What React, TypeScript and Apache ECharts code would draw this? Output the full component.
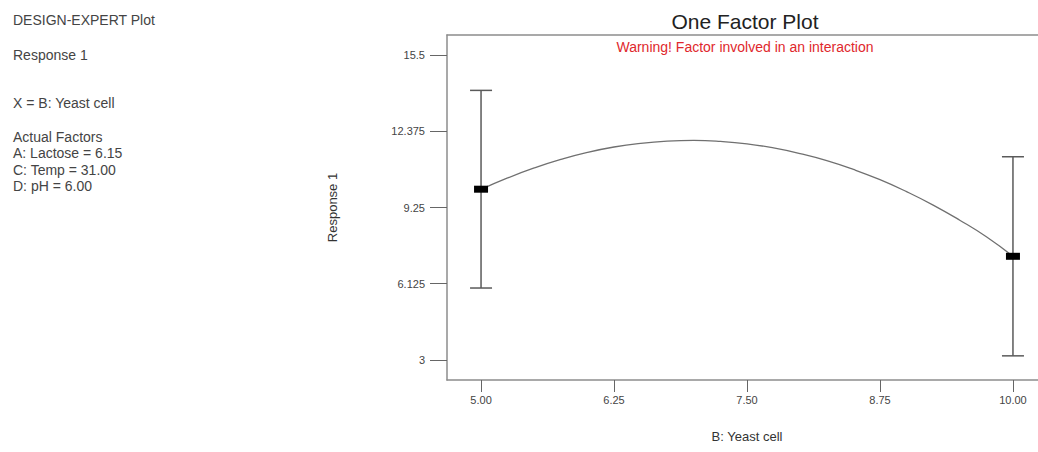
import React, { useEffect, useRef } from "react";
import * as echarts from "echarts";

const titleText = "One Factor Plot";
const warningText = "Warning! Factor involved in an interaction";
const infoLines = [
  { text: "DESIGN-EXPERT Plot", y: 20 },
  { text: "Response 1", y: 55 },
  { text: "X = B: Yeast cell", y: 103 },
  { text: "Actual Factors", y: 137 },
  { text: "A: Lactose = 6.15", y: 153 },
  { text: "C: Temp = 31.00", y: 170 },
  { text: "D: pH = 6.00", y: 186 },
];

const xTicks = [5, 6.25, 7.5, 8.75, 10];
const yTicks = [3, 6.125, 9.25, 12.375, 15.5];

const xLevels = [5, 10];
const means = [10.0, 7.25];
const lowers = [5.95, 3.17];
const uppers = [14.05, 11.33];

const curveX = [5, 5.25, 5.5, 5.75, 6, 6.25, 6.5, 6.75, 7, 7.25, 7.5, 7.75, 8, 8.25, 8.5, 8.75, 9, 9.25, 9.5, 9.75, 10];
const curveY = [9.99, 10.46, 10.87, 11.22, 11.51, 11.73, 11.88, 11.97, 12.0, 11.96, 11.86, 11.69, 11.46, 11.17, 10.81, 10.39, 9.9, 9.35, 8.73, 8.05, 7.25];

const FONT = "'Liberation Sans', Arial, sans-serif";
const AXIS_COLOR = "#8c8c8c";

export default function App() {
  const ref = useRef<HTMLDivElement>(null);
  useEffect(() => {
    if (!ref.current) return;
    const chart = echarts.init(ref.current, undefined, { renderer: "svg" });
    const errData = xLevels.map((x, i) => [x, means[i], lowers[i], uppers[i]]);
    const option: any = {
      animation: false,
      backgroundColor: "#ffffff",
      textStyle: { fontFamily: FONT },
      grid: {
        left: 447,
        top: 35,
        right: 13,
        bottom: 72,
        show: false,
      },
      xAxis: [
        {
          type: "value",
          position: "bottom",
          min: 4.68,
          max: 10.32,
          name: "B: Yeast cell",
          nameLocation: "middle",
          nameGap: 50,
          nameTextStyle: { fontSize: 13, color: "#333", fontFamily: FONT },
          axisLine: { show: true, lineStyle: { color: AXIS_COLOR, width: 1.5 } },
          axisTick: { show: true, length: 12, customValues: xTicks, lineStyle: { color: "#666" } },
          axisLabel: {
            customValues: xTicks,
            margin: 14,
            fontSize: 11,
            color: "#444",
            fontFamily: FONT,
            formatter: (v: number) => v.toFixed(2),
          },
          splitLine: { show: false },
        },
        {
          type: "value",
          position: "top",
          min: 4.68,
          max: 10.32,
          axisLine: { show: true, lineStyle: { color: AXIS_COLOR, width: 1.5 } },
          axisTick: { show: false },
          axisLabel: { show: false },
          splitLine: { show: false },
        },
      ],
      yAxis: {
        type: "value",
        min: 2.18,
        max: 16.32,
        name: "Response 1",
        nameLocation: "middle",
        nameGap: 108,
        nameRotate: 90,
        nameTextStyle: { fontSize: 13, color: "#333", fontFamily: FONT },
        axisLine: { show: true, lineStyle: { color: AXIS_COLOR, width: 1.5 } },
        axisTick: { show: true, length: 17, customValues: yTicks, lineStyle: { color: "#666" } },
        axisLabel: {
          customValues: yTicks,
          margin: 22,
          fontSize: 11,
          color: "#444",
          fontFamily: FONT,
          formatter: (v: number) => String(v),
        },
        splitLine: { show: false },
      },
      series: [
        {
          type: "line",
          xAxisIndex: 0,
          data: curveX.map((x, i) => [x, curveY[i]]),
          smooth: true,
          symbol: "none",
          lineStyle: { color: "#707070", width: 1.3 },
          z: 2,
        },
        {
          type: "custom",
          xAxisIndex: 0,
          data: errData,
          z: 3,
          renderItem: (params: any, api: any) => {
            const x = api.value(0);
            const m = api.coord([x, api.value(1)]);
            const lo = api.coord([x, api.value(2)]);
            const hi = api.coord([x, api.value(3)]);
            const cap = 11;
            const ls = { stroke: "#5a5a5a", lineWidth: 1.5 };
            return {
              type: "group",
              children: [
                { type: "line", shape: { x1: hi[0], y1: hi[1], x2: lo[0], y2: lo[1] }, style: ls },
                { type: "line", shape: { x1: hi[0] - cap, y1: hi[1], x2: hi[0] + cap, y2: hi[1] }, style: ls },
                { type: "line", shape: { x1: lo[0] - cap, y1: lo[1], x2: lo[0] + cap, y2: lo[1] }, style: ls },
                { type: "rect", shape: { x: m[0] - 7, y: m[1] - 3.5, width: 14, height: 7 }, style: { fill: "#000" } },
              ],
            };
          },
        },
      ],
      graphic: [
        {
          type: "text",
          x: 745,
          y: 21,
          style: {
            text: titleText,
            fontSize: 21,
            fontFamily: FONT,
            fill: "#222",
            textAlign: "center",
            textVerticalAlign: "middle",
          },
        },
        {
          type: "text",
          x: 745,
          y: 47,
          style: {
            text: warningText,
            fontSize: 14,
            fontFamily: FONT,
            fill: "#e0282c",
            textAlign: "center",
            textVerticalAlign: "middle",
          },
        },
        ...infoLines.map((l) => ({
          type: "text",
          x: 13,
          y: l.y,
          style: {
            text: l.text,
            fontSize: 14,
            fontFamily: FONT,
            fill: "#444",
            textAlign: "left",
            textVerticalAlign: "middle",
          },
        })),
      ],
    };
    chart.setOption(option);
    return () => chart.dispose();
  }, []);
  return (
    <div
      style={{ position: "absolute", left: 0, top: 0, width: 1038, height: 452, overflow: "hidden" }}
    >
      <div ref={ref} style={{ width: 1060, height: 452 }} />
    </div>
  );
}
